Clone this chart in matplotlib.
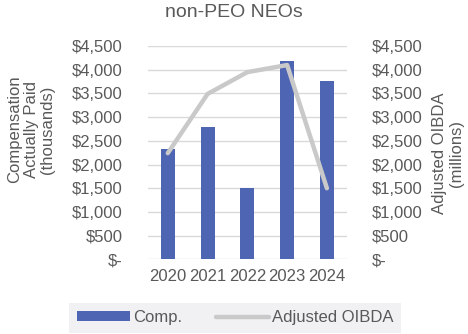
import matplotlib
matplotlib.use("Agg")
import matplotlib.pyplot as plt
from matplotlib.ticker import FuncFormatter, MultipleLocator

years = ["2020", "2021", "2022", "2023", "2024"]
comp = [2320, 2790, 1500, 4190, 3760]
oibda = [2240, 3490, 3950, 4100, 1500]

plt.rcParams['font.family'] = ['Liberation Sans', 'DejaVu Sans']
txt = '#595959'

fig = plt.figure(figsize=(4.68, 3.34), dpi=100)
ax = fig.add_axes([0.316, 0.2236, 0.425, 0.6384])
ax2 = ax.twinx()

x = list(range(len(years)))
ax.bar(x, comp, width=0.35, color='#4E65B4', label='Comp.', zorder=3)
ax2.plot(x, oibda, color='#C9C9C9', lw=3.2, label='Adjusted OIBDA', solid_capstyle='round', zorder=4)

fmt = FuncFormatter(lambda v, p: '$-' if v == 0 else f'${v:,.0f}')
for a in (ax, ax2):
    a.set_ylim(0, 4500)
    a.yaxis.set_major_locator(MultipleLocator(500))
    a.yaxis.set_major_formatter(fmt)
    for s in a.spines.values():
        s.set_visible(False)
    a.tick_params(length=0, labelsize=12, colors=txt)
ax.set_xlim(-0.5, 4.5)
ax.set_xticks(x)
ax.set_xticklabels(years)
ax.tick_params(axis='x', pad=7)
ax.tick_params(axis='y', pad=18)
ax2.tick_params(axis='y', pad=18)
ax.grid(axis='y', color='#D9D9D9', lw=1, zorder=0)
ax.set_axisbelow(True)
ax2.set_zorder(ax.get_zorder() + 1)
ax2.patch.set_visible(False)

fig.text(0.067, 0.612, 'Compensation\nActually Paid\n(thousands)', rotation=90, ha='center', va='center',
         fontsize=12, color=txt, linespacing=1.12)
fig.text(0.957, 0.54, 'Adjusted OIBDA\n(millions)', rotation=90, ha='center', va='center',
         fontsize=12, color=txt, linespacing=1.12)
fig.text(0.5, 0.962, 'non-PEO NEOs', ha='center', va='center', fontsize=14, color=txt)

h1, l1 = ax.get_legend_handles_labels()
h2, l2 = ax2.get_legend_handles_labels()
leg = fig.legend(h1 + h2, l1 + l2, loc='center', bbox_to_anchor=(0.503, 0.049),
                 ncol=2, frameon=True, fancybox=False, facecolor='#F1F1F3', edgecolor='none',
                 fontsize=12, handlelength=3.2, handleheight=0.5, columnspacing=2.0,
                 handletextpad=0.2, borderpad=0.45, framealpha=1)
for t in leg.get_texts():
    t.set_color(txt)

fig.savefig('out.png', dpi=100)
